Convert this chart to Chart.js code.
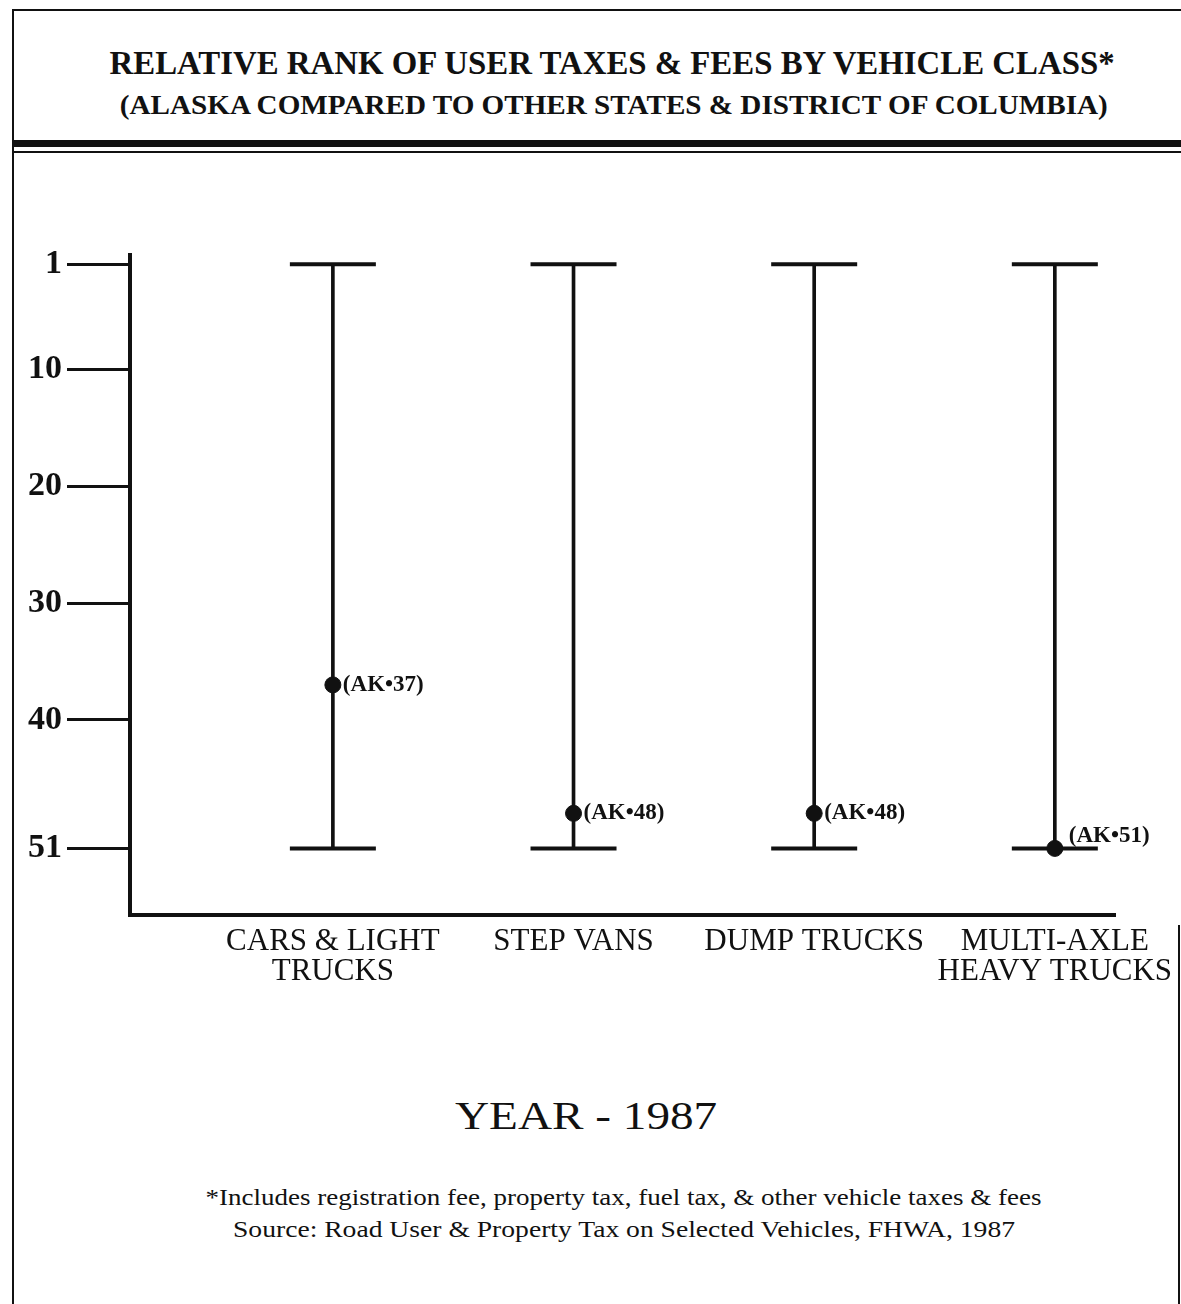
<!DOCTYPE html>
<html>
<head>
<meta charset="utf-8">
<script src="https://cdn.jsdelivr.net/npm/chart.js@4.4.1/dist/chart.umd.min.js"></script>
<style>
  body { margin: 0; background: #fff; }
  #page {
    position: relative; width: 1181px; height: 1304px; overflow: hidden;
    font-family: "Liberation Serif", "Times New Roman", serif; color: #111;
  }
  .line { position: absolute; background: #111; }
  .txt { position: absolute; white-space: nowrap; transform-origin: center center; }
  #chartBox { position: absolute; left: 0; top: 160px; width: 1181px; height: 900px; }
</style>
</head>
<body>
<div id="page">
  <div class="line" style="left:12px;top:9px;width:1169px;height:2px"></div>
  <div class="line" style="left:12px;top:9px;width:2px;height:1295px"></div>
  <div class="line" style="left:1178px;top:925px;width:2px;height:379px"></div>
  <div class="line" style="left:14px;top:140px;width:1167px;height:7px"></div>
  <div class="line" style="left:14px;top:151px;width:1167px;height:2px"></div>

  <div class="txt" id="title" data-cx="612" data-cy="63" data-w="1005"
       style="font-weight:bold;font-size:33px">RELATIVE RANK OF USER TAXES &amp; FEES BY VEHICLE CLASS*</div>
  <div class="txt" id="subtitle" data-cx="614" data-cy="105" data-w="988"
       style="font-weight:bold;font-size:27px">(ALASKA COMPARED TO OTHER STATES &amp; DISTRICT OF COLUMBIA)</div>

  <div id="chartBox"><canvas id="rankChart"></canvas></div>

  <div class="txt" id="year" data-cx="586" data-cy="1115" data-w="262"
       style="font-size:40px">YEAR - 1987</div>
  <div class="txt" id="note1" data-cx="623" data-cy="1197" data-w="836"
       style="font-size:24px">*Includes registration fee, property tax, fuel tax, &amp; other vehicle taxes &amp; fees</div>
  <div class="txt" id="note2" data-cx="624" data-cy="1229" data-w="782"
       style="font-size:24px">Source:  Road User &amp; Property Tax on Selected Vehicles, FHWA, 1987</div>
</div>

<script>
// vehicle classes (x positions 1..4)
const categories = [
  ['CARS & LIGHT', 'TRUCKS'],
  ['STEP VANS'],
  ['DUMP TRUCKS'],
  ['MULTI-AXLE', 'HEAVY TRUCKS']
];
const classPos = [1, 2, 3, 4];

// rank range shown for every class (best .. worst)
const rankHigh = [1, 1, 1, 1];
const rankLow = [51, 51, 51, 51];

// Alaska's rank in each class
const alaskaRank = [37, 48, 48, 51];
const alaskaLabels = ['(AK\u202237)', '(AK\u202248)', '(AK\u202248)', '(AK\u202251)'];

const yTicks = [1, 10, 20, 30, 40, 51];

// fit the html text blocks to the widths in the original
document.querySelectorAll('.txt').forEach(el => {
  const w = el.offsetWidth, h = el.offsetHeight;
  const sx = parseFloat(el.dataset.w) / w;
  el.style.left = (parseFloat(el.dataset.cx) - w / 2) + 'px';
  el.style.top = (parseFloat(el.dataset.cy) - h / 2) + 'px';
  el.style.transform = 'scaleX(' + sx.toFixed(3) + ')';
});

const ink = '#111';

// write the AK rank next to each marker
const pointLabels = {
  id: 'pointLabels',
  afterDatasetsDraw(chart) {
    const meta = chart.getDatasetMeta(3);
    const ctx = chart.ctx;
    ctx.save();
    ctx.fillStyle = ink;
    ctx.font = 'bold 23px "Liberation Serif", serif';
    ctx.textBaseline = 'middle';
    meta.data.forEach((pt, i) => {
      // lift the label off the bottom cap when the marker sits on it
      const lift = alaskaRank[i] === rankLow[i] ? 12 : 0;
      ctx.fillText(alaskaLabels[i], pt.x + (lift ? 14 : 10), pt.y - lift);
    });
    ctx.restore();
  }
};

const ctx = document.getElementById('rankChart').getContext('2d');
new Chart(ctx, {
  data: {
    datasets: [
      {
        // vertical range line
        type: 'bar',
        data: classPos.map((x, i) => ({ x: x, y: [rankHigh[i], rankLow[i]] })),
        backgroundColor: ink,
        barThickness: 3,
        order: 3
      },
      {
        // top cap
        type: 'scatter',
        data: classPos.map((x, i) => ({ x: x, y: rankHigh[i] })),
        pointStyle: 'line',
        radius: 43,
        borderWidth: 4,
        borderColor: ink,
        order: 2
      },
      {
        // bottom cap
        type: 'scatter',
        data: classPos.map((x, i) => ({ x: x, y: rankLow[i] })),
        pointStyle: 'line',
        radius: 43,
        borderWidth: 4,
        borderColor: ink,
        order: 2
      },
      {
        type: 'scatter',
        data: classPos.map((x, i) => ({ x: x, y: alaskaRank[i] })),
        pointStyle: 'circle',
        radius: 8,
        backgroundColor: ink,
        borderColor: ink,
        order: 1
      }
    ]
  },
  options: {
    responsive: true,
    maintainAspectRatio: false,
    animation: false,
    layout: { padding: { top: 95, right: 66, left: 0, bottom: 0 } },
    plugins: {
      legend: { display: false },
      tooltip: { enabled: false }
    },
    scales: {
      x: {
        type: 'linear',
        offset: false,
        min: 0.157,
        max: 4.25,
        afterBuildTicks: scale => { scale.ticks = classPos.map(v => ({ value: v })); },
        afterFit: scale => {
          scale.height = 145;
          // labels may hang past the axis ends, keep the plot width fixed
          scale.paddingLeft = 0;
          scale.paddingRight = 0;
        },
        ticks: {
          color: ink,
          padding: 12,
          maxRotation: 0,
          autoSkip: false,
          font: { family: '"Liberation Serif", serif', size: 31, lineHeight: 0.97 },
          callback: (v) => categories[classPos.indexOf(v)]
        },
        grid: { drawOnChartArea: false, drawTicks: false, offset: false },
        border: { display: true, width: 4, color: ink }
      },
      y: {
        type: 'linear',
        reverse: true,
        min: 0.2,
        max: 56.7,
        afterBuildTicks: scale => { scale.ticks = yTicks.map(v => ({ value: v })); },
        afterFit: scale => { scale.width = 130; },
        ticks: {
          color: ink,
          padding: 5,
          font: { family: '"Liberation Serif", serif', size: 34, weight: 'bold' }
        },
        grid: { drawOnChartArea: false, drawTicks: true, tickLength: 63, tickWidth: 3, tickColor: ink },
        border: { display: true, width: 4, color: ink }
      }
    }
  },
  plugins: [pointLabels]
});
</script>
</body>
</html>
